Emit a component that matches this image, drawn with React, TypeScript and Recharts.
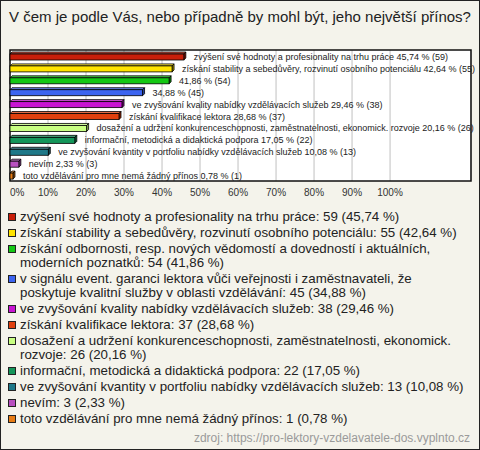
import React from "react";
import { BarChart, Bar, XAxis, YAxis, CartesianGrid, Cell, LabelList, ReferenceArea } from "recharts";

const title = "V čem je podle Vás, nebo případně by mohl být, jeho největší přínos?";
const source = "zdroj: https://pro-lektory-vzdelavatele-dos.vyplnto.cz";

const categories = [
  "zvýšení své hodnoty a profesionality na trhu práce",
  "získání stability a sebedůvěry, rozvinutí osobního potenciálu",
  "získání odbornosti, resp. nových vědomostí a dovedností i aktuálních, moderních poznatků",
  "v signálu event. garanci lektora vůči veřejnosti i zaměstnavateli, že poskytuje kvalitní služby v oblasti vzdělávání",
  "ve zvyšování kvality nabídky vzdělávacích služeb",
  "získání kvalifikace lektora",
  "dosažení a udržení konkurenceschopnosti, zaměstnatelnosti, ekonomick. rozvoje",
  "informační, metodická a didaktická podpora",
  "ve zvyšování kvantity v portfoliu nabídky vzdělávacích služeb",
  "nevím",
  "toto vzdělávání pro mne nemá žádný přínos",
];
// bar captions (empty where the chart shows only the numbers)
const barCaptions = [
  "zvýšení své hodnoty a profesionality na trhu práce",
  "získání stability a sebedůvěry, rozvinutí osobního potenciálu",
  "",
  "",
  "ve zvyšování kvality nabídky vzdělávacích služeb",
  "získání kvalifikace lektora",
  "dosažení a udržení konkurenceschopnosti, zaměstnatelnosti, ekonomick. rozvoje",
  "informační, metodická a didaktická podpora",
  "ve zvyšování kvantity v portfoliu nabídky vzdělávacích služeb",
  "nevím",
  "toto vzdělávání pro mne nemá žádný přínos",
];
const counts = [59, 55, 54, 45, 38, 37, 26, 22, 13, 3, 1];
const percents = [45.74, 42.64, 41.86, 34.88, 29.46, 28.68, 20.16, 17.05, 10.08, 2.33, 0.78];
const colors = [
  "#c81e0a", "#ffe400", "#14c814", "#3c64f0", "#c814d2", "#e0400e",
  "#c8ff82", "#14965a", "#1e7888", "#b850c0", "#e87c14",
];
const xTicks = [0, 10, 20, 30, 40, 50, 60, 70, 80, 90, 100];
const xMax = 121.3;

const fmt = (v: number) => v.toFixed(2).replace(".", ",");

const data = categories.map((name, i) => ({
  name,
  value: percents[i],
  label: `${barCaptions[i] ? barCaptions[i] + " " : ""}${fmt(percents[i])} % (${counts[i]})`,
}));

const FONT = "'Liberation Sans', Arial, sans-serif";

function shade(hex: string, f: number) {
  const n = parseInt(hex.slice(1), 16);
  let r = (n >> 16) & 255, g = (n >> 8) & 255, b = n & 255;
  if (f < 0) {
    r = Math.round(r * (1 + f)); g = Math.round(g * (1 + f)); b = Math.round(b * (1 + f));
  } else {
    r = Math.round(r + (255 - r) * f); g = Math.round(g + (255 - g) * f); b = Math.round(b + (255 - b) * f);
  }
  return `rgb(${r},${g},${b})`;
}

const D = 2;
const Bar3D = (props: any) => {
  const { x, y, width, height, fill } = props;
  if (width == null || height == null) return null;
  const w = Math.max(width, 0);
  const sw = 0.8;
  return (
    <g>
      <polygon
        points={`${x},${y + D} ${x + D},${y} ${x + w + D},${y} ${x + w},${y + D}`}
        fill={shade(fill, 0.25)}
        stroke="#000"
        strokeWidth={sw}
      />
      <polygon
        points={`${x + w},${y + D} ${x + w + D},${y} ${x + w + D},${y + height - D} ${x + w},${y + height}`}
        fill={shade(fill, -0.35)}
        stroke="#000"
        strokeWidth={sw}
      />
      <rect x={x} y={y + D} width={w} height={height - D} fill={fill} stroke="#000" strokeWidth={sw} />
    </g>
  );
};

const renderLabel = (props: any) => {
  const vb = props.viewBox || {};
  const x = props.x ?? vb.x;
  const y = props.y ?? vb.y;
  const width = props.width ?? vb.width;
  const height = props.height ?? vb.height;
  return (
    <text
      x={x + width + 10}
      y={y + height / 2 + D / 2}
      dominantBaseline="central"
      fontSize={9}
      fontFamily={FONT}
      fill="#222"
    >
      {props.value}
    </text>
  );
};

const Tick = (props: any) => {
  const { x, y, payload } = props;
  const first = payload.value === 0;
  return (
    <text
      x={x}
      y={y}
      dy="0.71em"
      textAnchor={first ? "start" : "middle"}
      fontSize={10}
      fontFamily={FONT}
      fill="#333"
    >
      {payload.value}%
    </text>
  );
};

export default function App() {
  return (
    <div
      style={{
        position: "fixed",
        left: 0,
        top: 0,
        width: 480,
        height: 450,
        background: "#f4f3eb",
        fontFamily: FONT,
        overflow: "hidden",
      }}
    >
      <div
        style={{
          position: "absolute",
          left: 0,
          top: 7,
          width: 480,
          textAlign: "center",
          fontSize: 15,
          lineHeight: "20px",
          color: "#222",
          whiteSpace: "nowrap",
        }}
      >
        {title}
      </div>
      <div style={{ position: "absolute", left: 0, top: 0 }}>
        <BarChart
          width={480}
          height={205}
          data={data}
          layout="vertical"
          margin={{ top: 50, right: 9, left: 10, bottom: 4 }}
          barSize={8}
        >
          <CartesianGrid horizontal={false} stroke="#c0c0c0" fill="#ffffff" />
          <XAxis
            type="number"
            domain={[0, xMax]}
            ticks={xTicks}
            axisLine={false}
            tickLine={false}
            height={20}
            tick={<Tick />}
            interval={0}
          />
          <YAxis type="category" dataKey="name" hide width={0} />
          <ReferenceArea x1={0} x2={xMax} fill="none" stroke="#111" strokeWidth={1.5} />
          <Bar dataKey="value" isAnimationActive={false} shape={<Bar3D />}>
            {data.map((d, i) => (
              <Cell key={i} fill={colors[i]} />
            ))}
            <LabelList dataKey="label" content={renderLabel} />
          </Bar>
        </BarChart>
      </div>
      <div style={{ position: "absolute", left: 8, top: 210, width: 459 }}>
        {categories.map((c, i) => (
          <div
            key={i}
            style={{ display: "flex", alignItems: "flex-start", marginBottom: 2, fontSize: 13.3, lineHeight: "14px", color: "#222" }}
          >
            <div
              style={{
                width: 8,
                height: 8,
                boxSizing: "border-box",
                border: "1px solid #222",
                background: colors[i],
                marginTop: 3,
                marginRight: 4,
                flex: "none",
              }}
            />
            <div style={{ flex: 1 }}>{`${c}: ${counts[i]} (${fmt(percents[i])} %)`}</div>
          </div>
        ))}
      </div>
      <div
        style={{
          position: "absolute",
          right: 10,
          top: 430,
          fontSize: 12,
          lineHeight: "16px",
          color: "#9a9a9a",
          whiteSpace: "nowrap",
        }}
      >
        {source}
      </div>
      <div
        style={{
          position: "absolute",
          left: 0,
          top: 0,
          width: 480,
          height: 450,
          boxSizing: "border-box",
          border: "1px solid #222",
          pointerEvents: "none",
        }}
      />
    </div>
  );
}
